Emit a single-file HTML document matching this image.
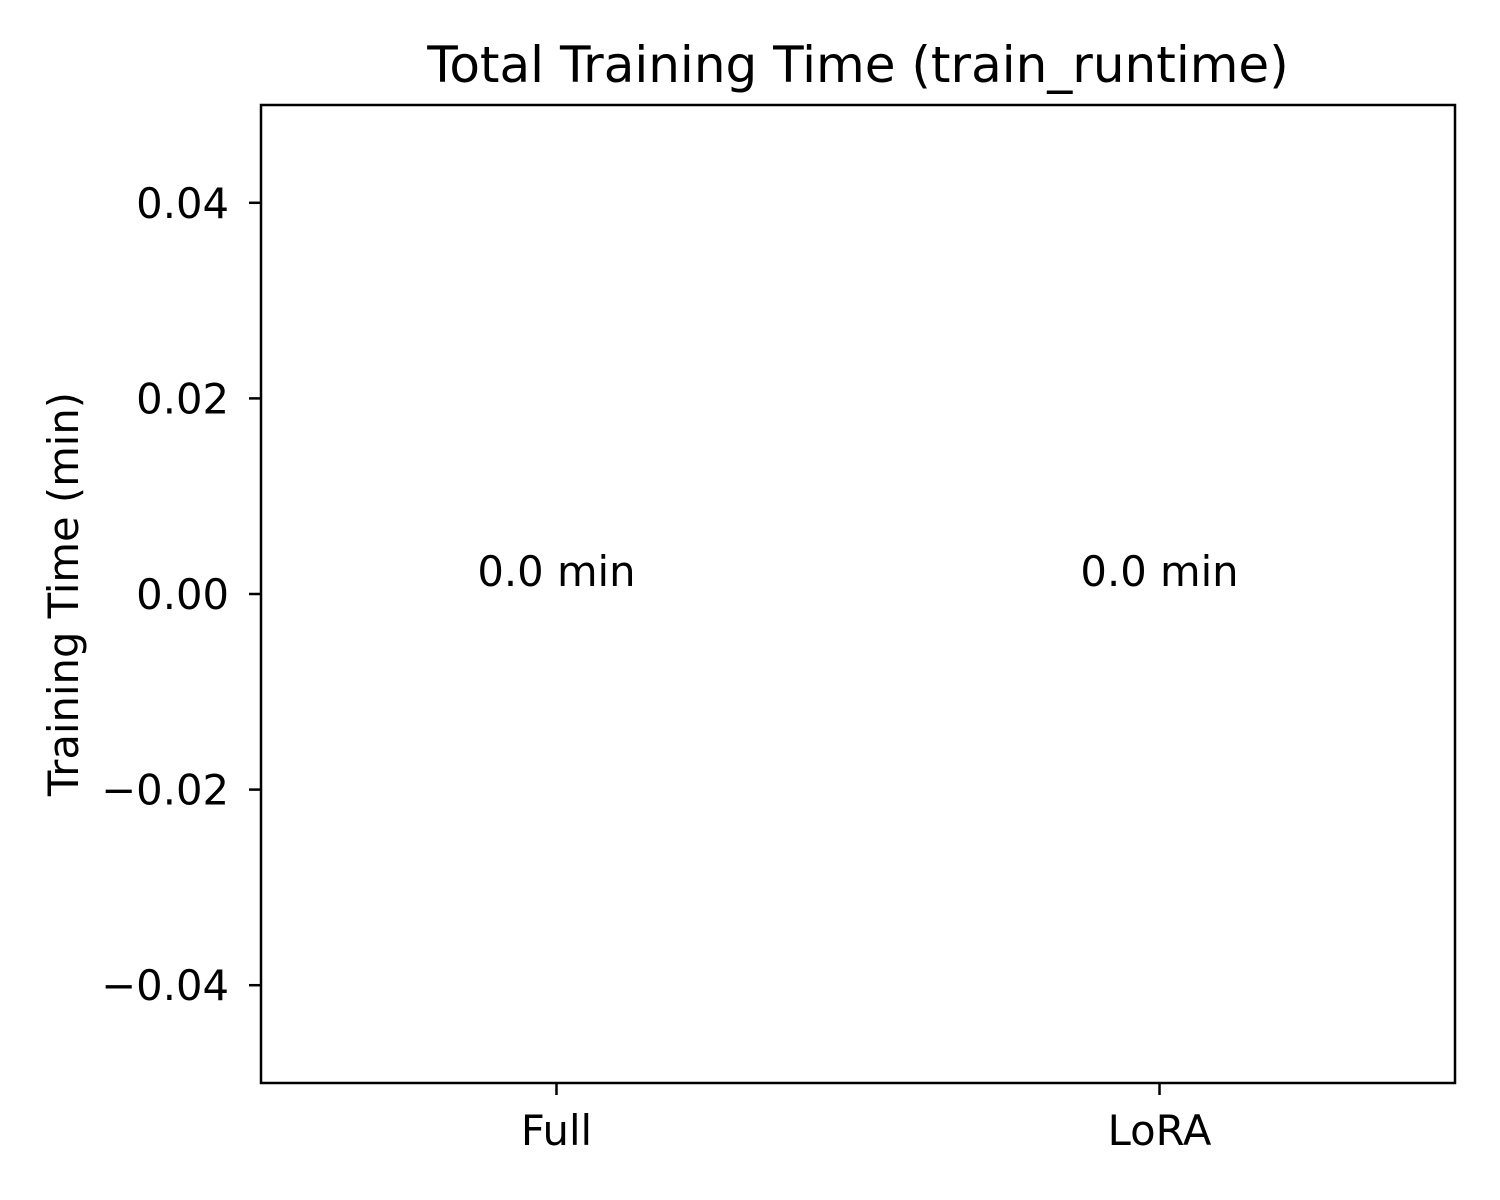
<!DOCTYPE html>
<html>
<head>
<meta charset="utf-8">
<style>
  html,body{margin:0;padding:0;background:#fff;}
  svg{display:block;font-family:"DejaVu Sans","Liberation Sans",sans-serif;}
</style>
</head>
<body>
<svg id="chart" width="1500" height="1200" viewBox="0 0 1500 1200" xmlns="http://www.w3.org/2000/svg">
  <rect x="0" y="0" width="1500" height="1200" fill="#fff"/>
  <text x="858" y="82" font-size="50" text-anchor="middle" fill="#000">Total Training Time (train_runtime)</text>
  <text transform="translate(78,594) rotate(-90)" font-size="41.7" text-anchor="middle" fill="#000">Training Time (min)</text>
  <g id="bars"></g>
  <g id="yticks"></g>
  <g id="xticks"></g>
  <g id="labels"></g>
  <rect x="261" y="105" width="1194" height="978" fill="none" stroke="#000" stroke-width="2.5"/>
</svg>
<script>
const categories = ["Full", "LoRA"];
const values = [0.0, 0.0];
const valueLabels = ["0.0 min", "0.0 min"];
const yTicks = [-0.04, -0.02, 0.00, 0.02, 0.04];
const yTickLabels = ["\u22120.04", "\u22120.02", "0.00", "0.02", "0.04"];

const NS = "http://www.w3.org/2000/svg";
const plot = {left:261, right:1455, top:105, bottom:1083};
const yMin = -0.05, yMax = 0.05, xMin = -0.49, xMax = 1.49;
function yScale(v){ return plot.bottom - (v - yMin) / (yMax - yMin) * (plot.bottom - plot.top); }
function xScale(i){ return plot.left + (i - xMin) / (xMax - xMin) * (plot.right - plot.left); }
function mk(tag, attrs){ const e = document.createElementNS(NS, tag); for (const k in attrs) e.setAttribute(k, attrs[k]); return e; }

const barsG = document.getElementById("bars");
const labelsG = document.getElementById("labels");
const barW = 0.8 * (xScale(1) - xScale(0));
values.forEach((v, i) => {
  const y0 = yScale(0), y1 = yScale(v);
  const r = mk("rect", {x: xScale(i) - barW/2, y: Math.min(y0, y1), width: barW, height: Math.abs(y0 - y1), fill: "#1f77b4"});
  
  
  barsG.appendChild(r);
  const t = mk("text", {x: xScale(i), y: y1 - 8, "font-size": 41.7, "text-anchor": "middle", fill: "#000"});
  t.textContent = valueLabels[i];
  
  
  labelsG.appendChild(t);
});

const yG = document.getElementById("yticks");
yTicks.forEach((v, i) => {
  const y = yScale(v);
  const l = mk("line", {x1: plot.left - 12, x2: plot.left, y1: y, y2: y, stroke: "#000", "stroke-width": 2.5});
  
  
  yG.appendChild(l);
  const t = mk("text", {x: plot.left - 32, y: y + 15, "font-size": 41.7, "text-anchor": "end", fill: "#000"});
  t.textContent = yTickLabels[i];
  
  
  yG.appendChild(t);
});

const xG = document.getElementById("xticks");
categories.forEach((c, i) => {
  const x = xScale(i);
  const l = mk("line", {x1: x, x2: x, y1: plot.bottom, y2: plot.bottom + 12, stroke: "#000", "stroke-width": 2.5});
  
  
  xG.appendChild(l);
  const t = mk("text", {x: x, y: plot.bottom + 62, "font-size": 41.7, "text-anchor": "middle", fill: "#000"});
  t.textContent = c;
  
  
  xG.appendChild(t);
});
</script>
</body>
</html>
